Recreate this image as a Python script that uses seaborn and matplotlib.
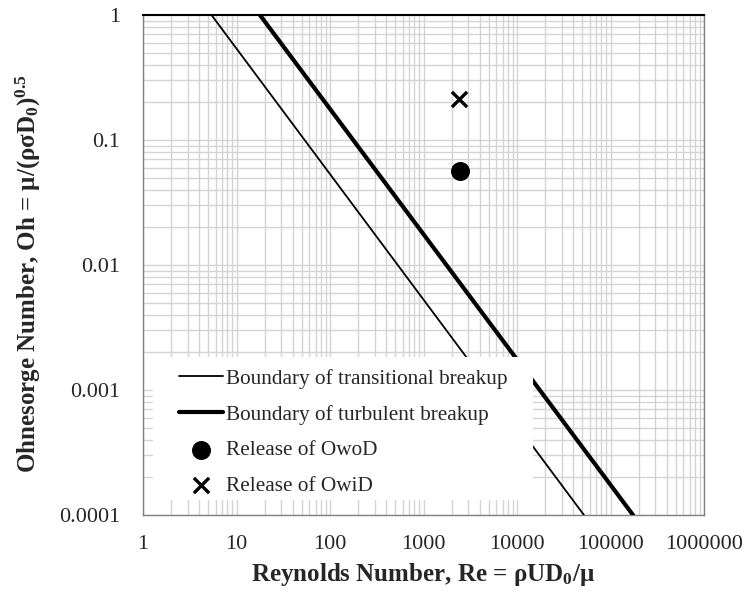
import numpy as np
import pandas as pd
import matplotlib
matplotlib.use("Agg")
import matplotlib.pyplot as plt
from matplotlib.patches import Rectangle
import seaborn as sns
from matplotlib.ticker import LogLocator, FixedLocator, FixedFormatter, NullFormatter

# Data
trans_re = [5.4, 52000]
trans_oh = [1.0, 0.0001]
turb_re = [17.8, 174000]
turb_oh = [1.0, 0.0001]
owod_re = [2450]
owod_oh = [0.056]
owid_re = [2400]
owid_oh = [0.213]
xticks = [1, 10, 100, 1000, 10000, 100000, 1000000]
xlabels = ["1", "10", "100", "1000", "10000", "100000", "1000000"]
yticks = [0.0001, 0.001, 0.01, 0.1, 1]
ylabels = ["0.0001", "0.001", "0.01", "0.1", "1"]

sns.set_theme(style="white")
plt.rcParams['font.family'] = ['Liberation Serif', 'DejaVu Serif']
plt.rcParams['mathtext.default'] = 'regular'

fig = plt.figure(figsize=(7.46, 5.92), dpi=100)
ax = fig.add_axes([143/746, 1 - 515/592, (704-143)/746, (515-15)/592])

trans_df = pd.DataFrame({"Re": trans_re, "Oh": trans_oh})
turb_df = pd.DataFrame({"Re": turb_re, "Oh": turb_oh})
sns.lineplot(data=trans_df, x="Re", y="Oh", color="black", linewidth=1.3, ax=ax,
             label="Boundary of transitional breakup", zorder=3)
sns.lineplot(data=turb_df, x="Re", y="Oh", color="black", linewidth=3.0, ax=ax,
             label="Boundary of turbulent breakup", zorder=3)
sns.scatterplot(x=owod_re, y=owod_oh, marker="o", s=160, color="black", edgecolor="black",
                ax=ax, label="Release of OwoD", zorder=4)
sns.scatterplot(x=owid_re, y=owid_oh, marker="x", s=120, color="black", linewidth=2.4,
                ax=ax, label="Release of OwiD", zorder=4)

ax.set_xscale("log")
ax.set_yscale("log")
ax.set_xlim(1, 1e6)
ax.set_ylim(1e-4, 1)

ax.xaxis.set_major_locator(FixedLocator(xticks))
ax.xaxis.set_major_formatter(FixedFormatter(xlabels))
ax.yaxis.set_major_locator(FixedLocator(yticks))
ax.yaxis.set_major_formatter(FixedFormatter(ylabels))
ax.xaxis.set_minor_locator(LogLocator(base=10, subs=np.arange(2, 10)))
ax.yaxis.set_minor_locator(LogLocator(base=10, subs=np.arange(2, 10)))
ax.xaxis.set_minor_formatter(NullFormatter())
ax.yaxis.set_minor_formatter(NullFormatter())

ax.grid(True, which="both", color="#d4d4d4", linewidth=1.0)
ax.set_axisbelow(True)
ax.tick_params(axis="both", which="major", direction="out", length=5.5, width=1,
               color="#808080", labelsize=16)
ax.tick_params(axis="both", which="minor", length=0)
ax.tick_params(axis="y", which="major", pad=11)
ax.tick_params(axis="x", which="major", pad=9)

for side in ["left", "bottom", "right"]:
    ax.spines[side].set_color("#808080")
    ax.spines[side].set_linewidth(1.0)
ax.spines["top"].set_color("black")
ax.spines["top"].set_linewidth(1.5)

ax.set_xlabel("Reynolds Number, Re = ρUD$_0$/μ", fontsize=18, fontweight="bold", labelpad=5)
ax.set_ylabel("Ohnesorge Number, Oh = μ/(ρσD$_0$)$^{0.5}$", fontsize=18, fontweight="bold")
ax.yaxis.set_label_coords(-0.178, 0.482)

# white legend area
ax.add_patch(Rectangle((0.0178, 0.03), 0.677, 0.286, transform=ax.transAxes,
                       facecolor="white", edgecolor="none", zorder=4.5))

leg = ax.legend(loc="upper left", bbox_to_anchor=((179-143)/561, 0.292),
                frameon=False, fontsize=15.3, handlelength=2.05, handletextpad=0.15,
                labelspacing=0.74, borderaxespad=0, borderpad=0)
leg.set_zorder(5)

fig.savefig("out.png", dpi=100)
